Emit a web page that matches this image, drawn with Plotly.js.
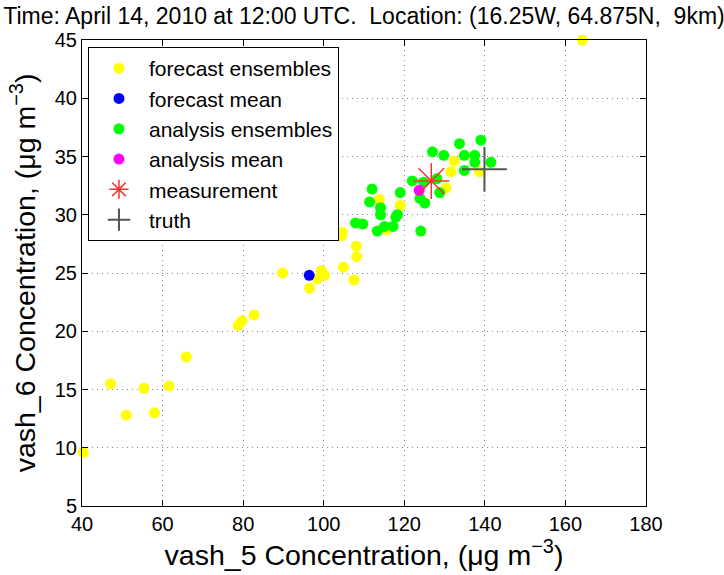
<!DOCTYPE html>
<html>
<head>
<meta charset="utf-8">
<script src="https://cdn.plot.ly/plotly-3.0.1.min.js"></script>
<style>html,body{margin:0;padding:0;background:#fff;}#chart{width:724px;height:575px;}</style>
</head>
<body>
<div id="chart"></div>
<script>
// forecast ensembles (yellow)
const fcX = [40.3, 47.1, 51.0, 55.4, 58.0, 61.6, 65.9, 78.8, 79.7, 82.7, 89.8, 96.5, 98.4, 99.4, 100.2, 104.9, 107.5, 108.2, 108.1, 104.4, 104.6, 113.8, 115.6, 119.0, 130.4, 132.4, 131.6, 138.7, 164.2];
const fcY = [9.6, 15.5, 12.8, 15.1, 13.0, 15.3, 17.8, 20.5, 20.9, 21.4, 25.0, 23.7, 24.5, 25.2, 24.8, 25.5, 24.4, 26.4, 27.3, 28.2, 28.5, 31.3, 28.7, 30.8, 32.3, 34.6, 33.7, 33.7, 45.0];
// forecast mean (blue)
const fmX = [96.4];
const fmY = [24.8];
// analysis ensembles (green)
const anX = [107.9, 109.7, 113.3, 115.1, 117.2, 117.9, 118.3, 114.1, 114.1, 111.4, 112.0, 119.0, 124.1, 122.0, 123.9, 125.1, 127.0, 129.8, 128.1, 128.8, 124.8, 133.7, 134.9, 137.5, 137.5, 134.9, 139.0, 141.5];
const anY = [29.3, 29.2, 28.6, 29.0, 29.0, 29.8, 30.0, 30.0, 30.6, 31.1, 32.2, 31.9, 28.6, 32.9, 31.4, 31.0, 35.4, 35.1, 33.1, 31.9, 32.8, 36.1, 35.1, 35.1, 34.5, 33.8, 36.4, 34.5];
// analysis mean (magenta)
const amX = [123.7];
const amY = [32.1];
// measurement
const msX = [126.7];
const msY = [32.9];
// truth
const trX = [139.9];
const trY = [33.9];

const xTicks = [40, 60, 80, 100, 120, 140, 160, 180];
const yTicks = [5, 10, 15, 20, 25, 30, 35, 40, 45];

const FONT = 'Liberation Sans, Arial, Helvetica, sans-serif';

const dot = (x, y, name, color) => ({
  type: 'scatter', mode: 'markers', x: x, y: y, name: name, cliponaxis: false,
  marker: {color: color, size: 11, line: {width: 0}}
});

const traces = [
  dot(fcX, fcY, 'forecast ensembles', '#ffff00'),
  dot(fmX, fmY, 'forecast mean', '#0000ff'),
  dot(anX, anY, 'analysis ensembles', '#00ff00'),
  dot(amX, amY, 'analysis mean', '#ff00ff'),
  {type: 'scatter', mode: 'markers', x: msX, y: msY, name: 'measurement', cliponaxis: false,
   marker: {symbol: 'asterisk-open', size: 30, color: '#ff3030', line: {color: 'rgba(255,40,40,0.9)', width: 1.5}}},
  {type: 'scatter', mode: 'markers', x: trX, y: trY, name: 'truth', cliponaxis: false,
   marker: {symbol: 'cross-thin-open', size: 32, color: '#555555', line: {color: 'rgba(70,70,70,0.85)', width: 2}}}
];

const axisCommon = {
  showline: true, linecolor: '#000', linewidth: 1, mirror: 'ticks',
  ticks: 'inside', ticklen: 6, tickcolor: '#000', tickwidth: 1,
  showgrid: true, gridcolor: '#8a8a8a', griddash: '1px,4px', gridwidth: 1,
  zeroline: false, tickfont: {family: FONT, size: 20, color: '#000'}
};

const layout = {
  width: 724, height: 575,
  margin: {l: 82, r: 78, t: 40, b: 69},
  paper_bgcolor: '#fff', plot_bgcolor: '#fff',
  font: {family: FONT, color: '#000'},
  title: {text: 'Time: April 14, 2010 at 12:00 UTC.  Location: (16.25W, 64.875N,  9km)',
          font: {family: FONT, size: 23, color: '#000'},
          x: 0.5, xref: 'paper', xanchor: 'center', y: 0.972, yref: 'container', yanchor: 'middle'},
  xaxis: Object.assign({}, axisCommon, {
    range: [40, 180], tickvals: xTicks, ticktext: xTicks.map(String),
    title: {text: 'vash_5 Concentration, (μg m<sup>−3</sup>)', font: {family: FONT, size: 28.5, color: '#000'}, standoff: 11}
  }),
  yaxis: Object.assign({}, axisCommon, {
    range: [5, 45], tickvals: yTicks, ticktext: yTicks.map(String),
    title: {text: 'vash_6 Concentration, (μg m<sup>−3</sup>)', font: {family: FONT, size: 28.5, color: '#000'}, standoff: 10}
  }),
  showlegend: true,
  legend: {x: 0.0106, y: 0.985, xanchor: 'left', yanchor: 'top', itemwidth: 50,
           bgcolor: '#fff', bordercolor: '#000', borderwidth: 1,
           font: {family: FONT, size: 21, color: '#000'}, tracegroupgap: 0}
};

Plotly.newPlot('chart', traces, layout, {displayModeBar: false, staticPlot: true});
</script>
</body>
</html>
